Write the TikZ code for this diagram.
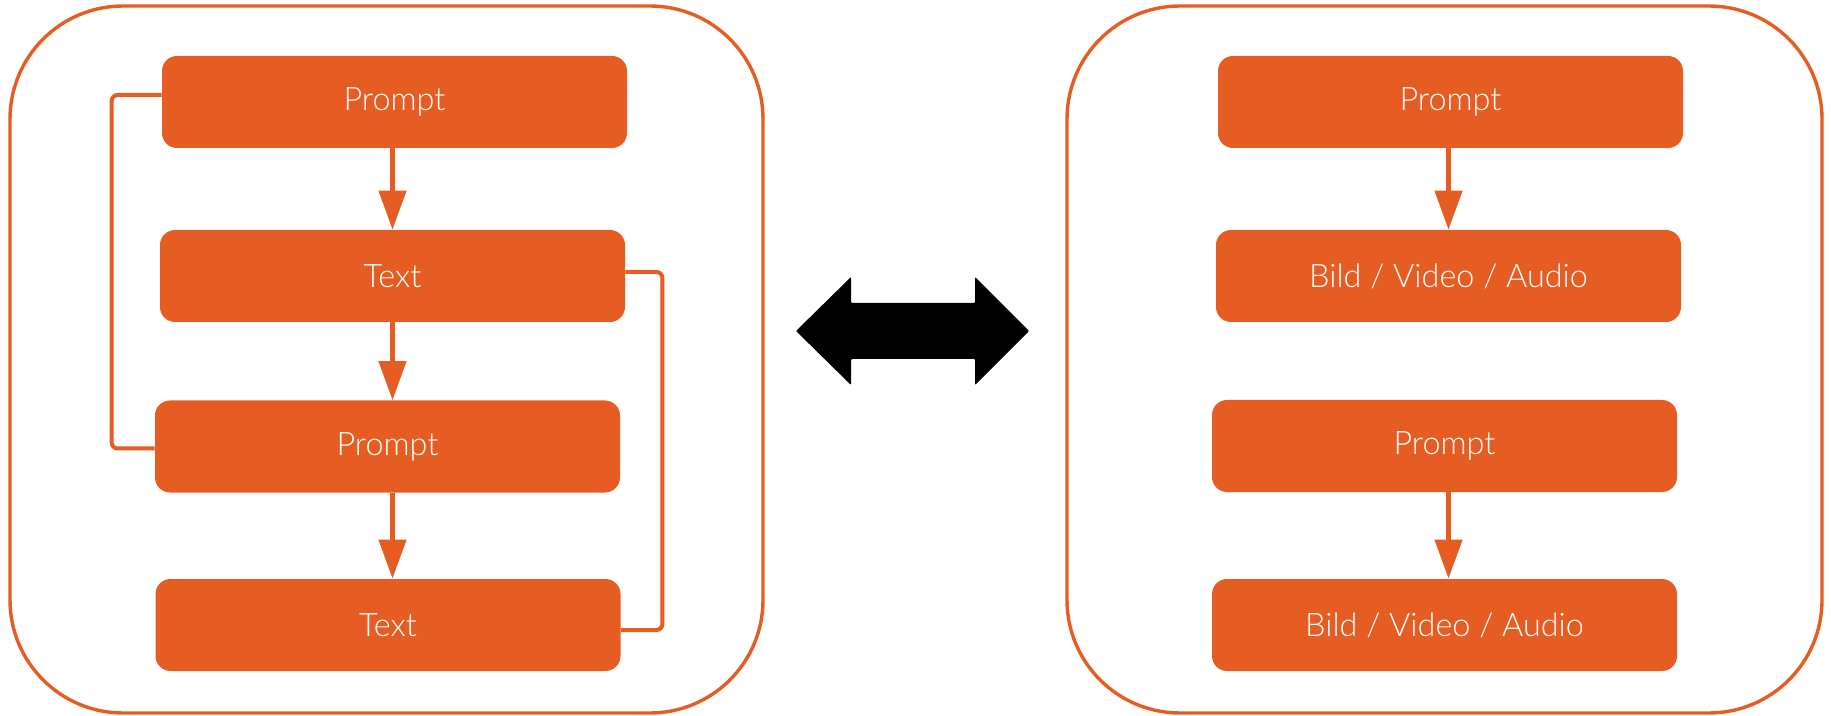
\documentclass[tikz,border=0pt]{standalone}
\usepackage{fontspec}
\setmainfont{Lato}[UprightFont=* Light]
\usepackage{tikz}
\usetikzlibrary{arrows.meta}
\definecolor{accent}{HTML}{E55D22}

\begin{document}
\begin{tikzpicture}
[
x=0.5pt,y=-0.5pt,
frame/.style={draw=accent,line width=1.7pt,rounded corners=56.5pt},
stage/.style={fill=accent,text=white,rounded corners=7.5pt,minimum width=232.5pt,minimum height=46pt,inner sep=0pt,font=\fontsize{16.2}{19}\selectfont},
flow/.style={draw=accent,line width=2.3pt,-{Triangle[width=13.5pt,length=19.5pt]}},
loopback/.style={draw=accent,line width=2pt,rounded corners=3pt},
]
\useasboundingbox (0,0) rectangle (1831,716);

%Frames
\draw[frame] (10,6) rectangle (763,713);
\draw[frame] (1067,6) rectangle (1822,713);

%Place the nodes
\node[stage] (l1) at (394.5,102) {Prompt};
\node[stage] (l2) at (392.5,276) {Text};
\node[stage] (l3) at (387.5,446.5) {Prompt};
\node[stage] (l4) at (388,625) {Text};
\node[stage] (r1) at (1450.5,102) {Prompt};
\node[stage] (r2) at (1448.5,276) {Bild / Video / Audio};
\node[stage] (r3) at (1444.5,446) {Prompt};
\node[stage] (r4) at (1444.5,625) {Bild / Video / Audio};

%Draw the connections
\draw[flow] (l2.north |- l1.south) -- (l2.north);
\draw[flow] (l2.south) -- (l2.south |- l3.north);
\draw[flow] (l2.south |- l3.south) -- (l2.south |- l4.north);
\draw[flow] (r2.north |- r1.south) -- (r2.north);
\draw[flow] (r2.south |- r3.south) -- (r2.south |- r4.north);
\draw[loopback] ([yshift=3.5pt]l1.west) -- ++(-50,0) |- ([yshift=-1pt]l3.west);
\draw[loopback] ([yshift=2pt]l2.east) -- ++(37,0) |- ([yshift=-2.5pt]l4.east);

%Swap arrow
\fill[rounded corners=0.5pt] (796,331) -- (851,277) -- (851,303) -- (975,303) -- (975,277) -- (1029,331)
  -- (975,385) -- (975,359) -- (851,359) -- (851,385) -- cycle;
\end{tikzpicture}
\end{document}
